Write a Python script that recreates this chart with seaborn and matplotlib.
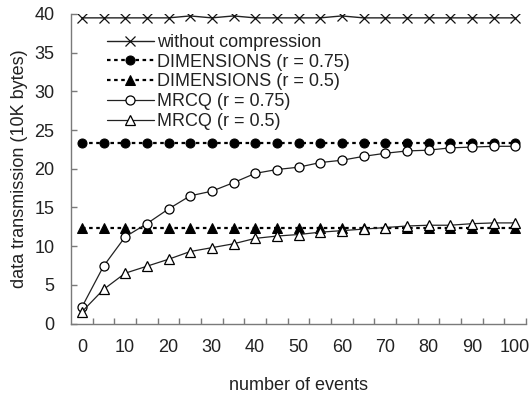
import matplotlib
matplotlib.use("Agg")
import matplotlib.pyplot as plt
import seaborn as sns
import numpy as np

# ---- data ----
events = list(range(0, 101, 5))
without_compression = [39.5, 39.5, 39.5, 39.5, 39.5, 39.75, 39.5, 39.75, 39.5, 39.5, 39.5,
                       39.5, 39.75, 39.5, 39.5, 39.5, 39.5, 39.5, 39.5, 39.5, 39.5]
dimensions_075 = [23.3] * 21
dimensions_05 = [12.3] * 21
mrcq_075 = [2.1, 7.4, 11.2, 12.9, 14.8, 16.5, 17.1, 18.2, 19.4, 19.9, 20.2,
            20.8, 21.1, 21.6, 22.0, 22.3, 22.4, 22.7, 22.8, 22.9, 22.9]
mrcq_05 = [1.5, 4.4, 6.5, 7.4, 8.3, 9.3, 9.8, 10.3, 11.0, 11.3, 11.5,
           11.8, 12.0, 12.2, 12.4, 12.6, 12.7, 12.7, 12.9, 13.0, 13.0]
x_tick_labels = [str(v) for v in range(0, 101, 10)]
y_ticks = list(range(0, 41, 5))

sns.set_style("ticks")
plt.rcParams["font.family"] = ["Liberation Sans", "DejaVu Sans"]
FS = 13

fig = plt.figure(figsize=(5.31, 4.01), dpi=100)
ax = fig.add_axes([71 / 531, 1 - 323.5 / 401, (526 - 71) / 531, (323.5 - 14) / 401])

line_col = "#222222"
ms = 6.5
dotted = (0, (1.6, 1.6))

sns.lineplot(x=events, y=without_compression, ax=ax, color=line_col, lw=1.0,
             marker="x", markersize=7, markeredgewidth=0.9, markeredgecolor="#111111",
             label="without compression")
sns.lineplot(x=events, y=dimensions_075, ax=ax, color="black", lw=1.6, linestyle=dotted,
             marker="o", markersize=ms, markerfacecolor="black", markeredgecolor="black",
             label="DIMENSIONS (r = 0.75)")
sns.lineplot(x=events, y=dimensions_05, ax=ax, color="black", lw=1.6, linestyle=dotted,
             marker="^", markersize=ms + 0.5, markerfacecolor="black", markeredgecolor="black",
             label="DIMENSIONS (r = 0.5)")
sns.lineplot(x=events, y=mrcq_075, ax=ax, color=line_col, lw=0.9,
             marker="o", markersize=ms, markerfacecolor="white", markeredgecolor="black",
             markeredgewidth=0.9, label="MRCQ (r = 0.75)")
sns.lineplot(x=events, y=mrcq_05, ax=ax, color=line_col, lw=0.9,
             marker="^", markersize=ms + 1, markerfacecolor="white", markeredgecolor="black",
             markeredgewidth=0.9, label="MRCQ (r = 0.5)")

ax.set_xlim(-2.5, 102.5)
ax.set_ylim(0, 40)
ax.set_yticks(y_ticks)
ax.set_xticks(list(range(0, 101, 10)))
ax.set_xticklabels(x_tick_labels)
ax.set_xticks(list(np.arange(2.5, 103, 5)), minor=True)

spine_col = "#7a7a7a"
for s in ["top", "right"]:
    ax.spines[s].set_visible(False)
for s in ["left", "bottom"]:
    ax.spines[s].set_color(spine_col)
    ax.spines[s].set_linewidth(1.0)

ax.tick_params(axis="y", direction="in", length=4, width=1, color=spine_col,
               labelsize=FS, labelcolor="#222222", pad=12)
ax.tick_params(axis="x", which="major", length=0, labelsize=FS, labelcolor="#222222", pad=11)
ax.tick_params(axis="x", which="minor", direction="in", length=4, width=1, color=spine_col)

ax.set_xlabel("number of events", fontsize=FS, color="#222222", labelpad=15)
ax.set_ylabel("data transmission (10K bytes)", fontsize=FS, color="#222222", labelpad=4.5)

leg = ax.legend(loc="upper left", bbox_to_anchor=(107 / 531, 1 - 34 / 401),
                bbox_transform=fig.transFigure, frameon=False, fontsize=FS,
                borderpad=0, borderaxespad=0, labelspacing=0.15,
                handlelength=2.6, handletextpad=0.15)
for t in leg.get_texts():
    t.set_color("#222222")

fig.savefig("out.png", dpi=100)
